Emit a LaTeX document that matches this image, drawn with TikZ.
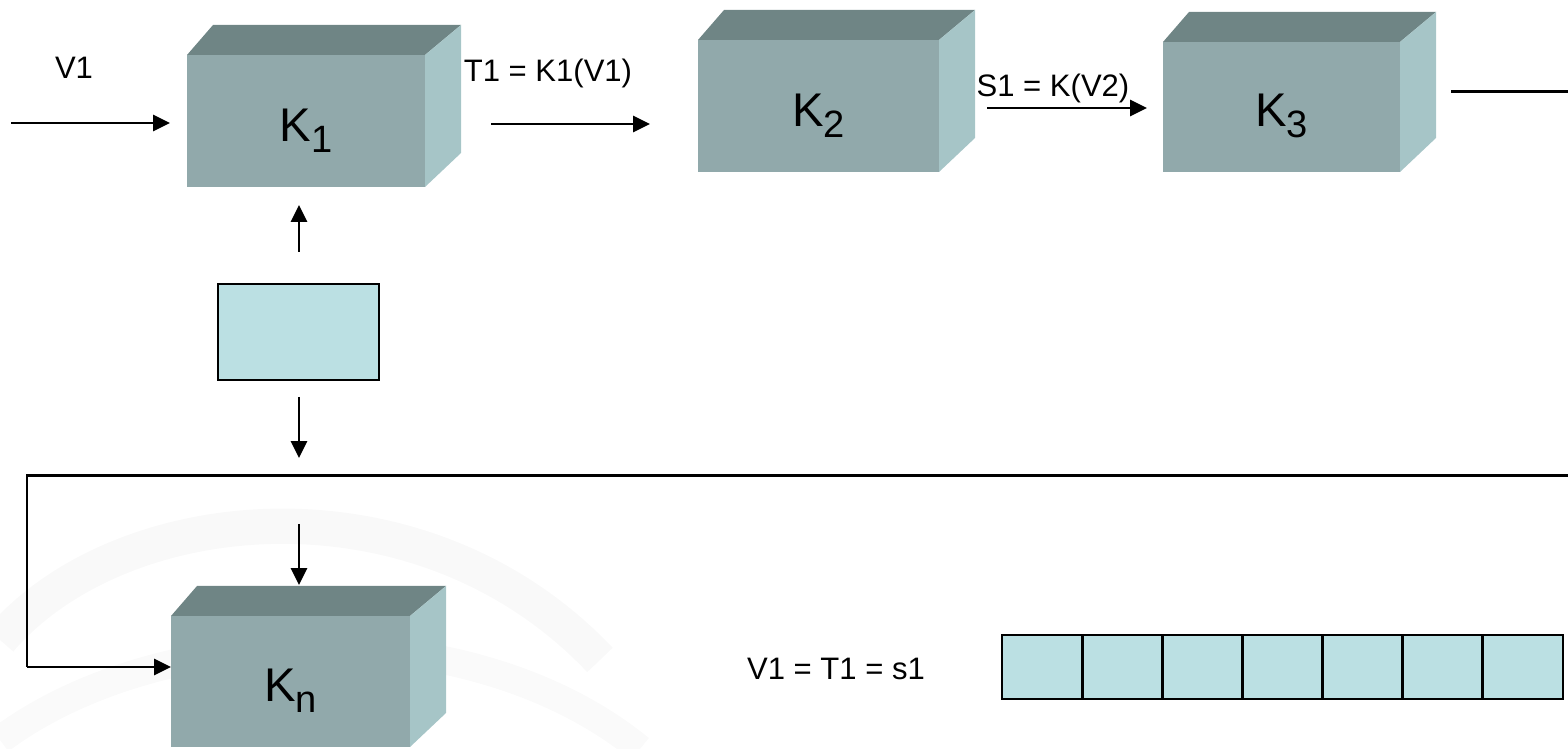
\documentclass[tikz,border=0pt]{standalone}
\usepackage{fontspec}
\setmainfont{Liberation Sans}
\usetikzlibrary{arrows.meta,calc}
\definecolor{frontc}{HTML}{91A9AB}
\definecolor{topc}{HTML}{6F8585}
\definecolor{sidec}{HTML}{A6C5C7}
\definecolor{cellc}{HTML}{BBE0E3}
\newcommand{\kbox}[6]{%
  \fill[topc] (#2,#3) -- ++(26,-30) -- ({#4+36},{#3-30}) -- (#4,#3) -- cycle;
  \fill[sidec] (#4,#3) -- ({#4+36},{#3-30}) -- ({#4+36},{#5-34}) -- (#4,#5) -- cycle;
  \fill[frontc] (#2,#3) rectangle (#4,#5);
  \node[klabel] (#1) at ({(#2+#4)/2},{#5-45}) {#6};
}
\newcommand{\ksub}[1]{\raisebox{-3.1pt}{\fontsize{10.8}{10.8}\selectfont #1}}
\begin{document}
\begin{tikzpicture}[x=0.2835pt,y=-0.2835pt,
  klabel/.style={anchor=base,font=\fontsize{13.4}{13.4}\selectfont,inner sep=0pt},
  lbl/.style={anchor=base,font=\fontsize{8.8}{8.8}\selectfont,inner sep=0pt},
  arr/.style={line width=0.6pt,-{Triangle[length=4.8pt,width=4.6pt]}},
  ln/.style={line width=0.85pt},
  cellst/.style={draw,line width=0.8pt,fill=cellc,minimum width=22.72pt,minimum height=18.14pt,inner sep=0pt,outer sep=0pt},
  ctrlst/.style={draw,line width=0.8pt,fill=cellc,minimum width=45.64pt,minimum height=27.2pt,inner sep=0pt,outer sep=0pt}]
\useasboundingbox (0,0) rectangle (1568,749);
% faint background swooshes
\draw[black!2.5,line width=10pt] (0,640) .. controls (120,500) and (420,470) .. (600,660);
\draw[black!2,line width=8pt] (0,740) .. controls (160,620) and (470,610) .. (640,749);
% boxes
\kbox{K1}{187}{55}{425}{187}{K\ksub{1}}
\kbox{K2}{698}{40}{939}{172}{K\ksub{2}}
\kbox{K3}{1163}{42}{1400}{172}{K\ksub{3}}
\kbox{Kn}{171}{616}{410}{747}{K\ksub{n}}
% labels
\node[lbl] (lv1) at (74,79) {V1};
\node[lbl] (lt1) at (548,82) {T1 = K1(V1)};
\node[lbl] (ls1) at (1053,97) {S1 = K(V2)};
\node[lbl] (leq) at (836,680) {V1 = T1 = s1};
% coordinates
\coordinate (vin) at (11,123);
\coordinate (vout) at (170,123);
\coordinate (t1a) at (491,124);
\coordinate (t1b) at (650,124);
\coordinate (s1a) at (987,108);
\coordinate (s1b) at (1147,108);
\coordinate (k3a) at (1451,92);
\coordinate (k3b) at (1568,92);
\coordinate (upa) at (299,252);
\coordinate (upb) at (299,205);
\coordinate (dna) at (299,397);
\coordinate (dnb) at (299,458);
\coordinate (fbr) at (1568,476);
\coordinate (fbl) at (27,476);
\coordinate (fbd) at (27,667);
\coordinate (fbe) at (171,667);
\coordinate (kna) at (299,524);
\coordinate (knb) at (299,585);
% control box
\node[ctrlst] (ctrl) at (298.5,332) {};
% array
\foreach \i in {0,...,6} \node[cellst] (c\i) at ({1042.07+80.14*\i},667) {};
% connectors
\draw[arr] (vin) -- (vout);
\draw[arr] (t1a) -- (t1b);
\draw[arr] (s1a) -- (s1b);
\draw[ln] (k3a) -- (k3b);
\draw[arr] (upa) -- (upb);
\draw[arr] (dna) -- (dnb);
\draw[ln] (fbr) -- (fbl) -- (fbd);
\draw[arr] (fbd) -- (fbe);
\draw[arr] (kna) -- (knb);
\end{tikzpicture}
\end{document}
